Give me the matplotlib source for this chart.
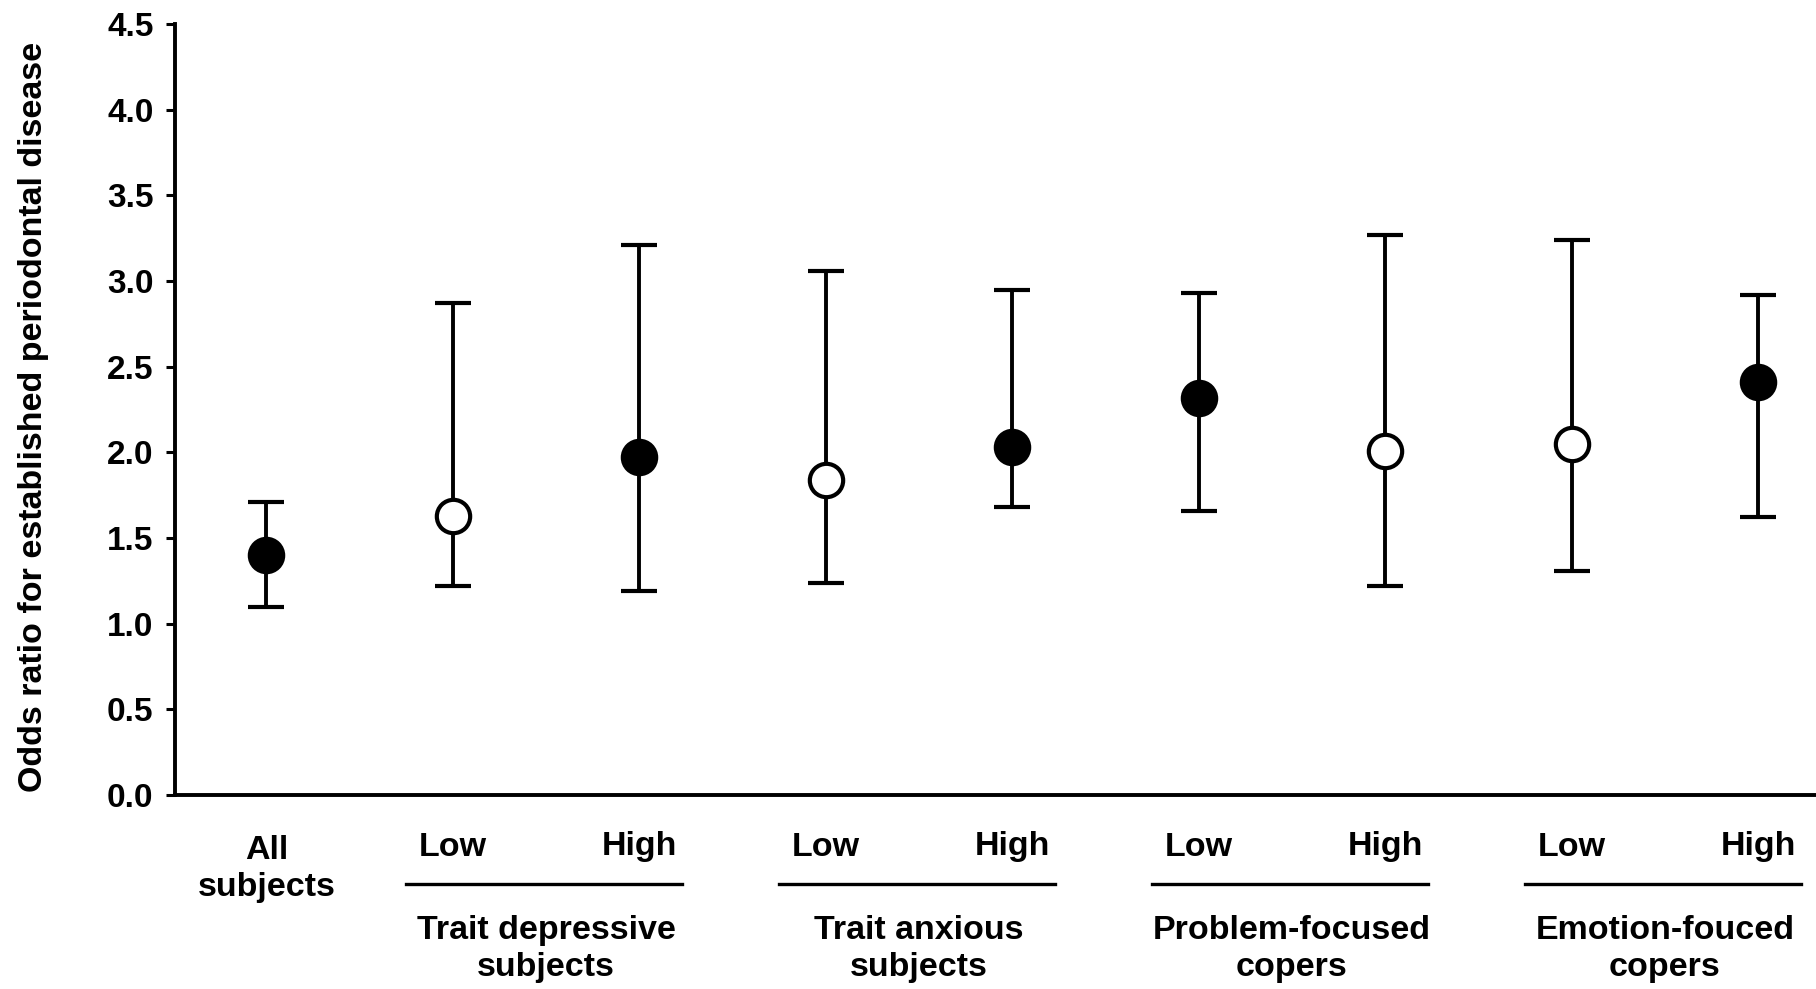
import matplotlib
matplotlib.use("Agg")
import matplotlib.pyplot as plt
from matplotlib.lines import Line2D

plt.rcParams['font.family'] = ['Liberation Sans', 'DejaVu Sans']
plt.rcParams['font.weight'] = 'bold'

# ---- data ----
point_labels = ["All\nsubjects", "Low", "High", "Low", "High", "Low", "High", "Low", "High"]
odds_ratio = [1.40, 1.63, 1.97, 1.84, 2.03, 2.32, 2.01, 2.05, 2.41]
ci_low = [1.10, 1.22, 1.19, 1.24, 1.68, 1.66, 1.22, 1.31, 1.62]
ci_high = [1.71, 2.87, 3.21, 3.06, 2.95, 2.93, 3.27, 3.24, 2.92]
filled = [True, False, True, False, True, True, False, False, True]
group_names = ["Trait depressive\nsubjects", "Trait anxious\nsubjects",
               "Problem-focused\ncopers", "Emotion-fouced\ncopers"]
group_start = [1, 3, 5, 7]
y_ticks = [0.0, 0.5, 1.0, 1.5, 2.0, 2.5, 3.0, 3.5, 4.0, 4.5]
y_label = "Odds ratio for established periodontal disease"

FS = 24.5
W, H = 1816, 989
fig = plt.figure(figsize=(W / 100, H / 100), dpi=100)
ax_left, ax_right, ax_bot, ax_top = 175, 1816, 795, 24
ax = fig.add_axes([ax_left / W, 1 - ax_bot / H, (ax_right - ax_left) / W, (ax_bot - ax_top) / H])

for i, (v, lo, hi, f) in enumerate(zip(odds_ratio, ci_low, ci_high, filled)):
    ax.errorbar([i], [v], yerr=[[v - lo], [hi - v]], fmt='o', color='black',
                ecolor='black', elinewidth=2.8, capsize=13, capthick=3.6,
                markersize=24, markeredgewidth=3.0, markeredgecolor='black',
                markerfacecolor='black' if f else 'white', zorder=3)

ax.set_xlim(-0.49, 8.31)
ax.set_ylim(0, 4.5)
ax.set_yticks(y_ticks)
ax.set_yticklabels([f"{t:.1f}" for t in y_ticks], fontsize=FS - 0.5, fontweight='bold')
ax.set_xticks([])
for s in ['top', 'right']:
    ax.spines[s].set_visible(False)
ax.spines['left'].set_linewidth(2.8)
ax.spines['bottom'].set_linewidth(2.8)
ax.tick_params(axis='y', direction='out', length=6.5, width=2.2, pad=9)
ax.set_ylabel(y_label, fontsize=FS, fontweight='bold')
ax.yaxis.set_label_coords(-0.077, 0.49)

def yf(pix):
    return (ax_bot - pix) / (ax_bot - ax_top)

tr = ax.get_xaxis_transform()
for i, lab in enumerate(point_labels):
    if "\n" in lab:
        ax.text(i, yf(869), lab, transform=tr, ha='center', va='center',
                fontsize=FS, fontweight='bold', linespacing=1.28)
    else:
        ax.text(i, yf(847), lab, transform=tr, ha='center', va='center',
                fontsize=FS, fontweight='bold')

for g, s in zip(group_names, group_start):
    ln = Line2D([s - 0.25, s + 1.23], [yf(884), yf(884)], transform=tr,
                color='black', linewidth=2.4, clip_on=False)
    ax.add_line(ln)
    ax.text(s + 0.5, yf(949), g, transform=tr, ha='center', va='center',
            fontsize=FS, fontweight='bold', linespacing=1.28)

fig.savefig("out.png", dpi=100, facecolor='white')
